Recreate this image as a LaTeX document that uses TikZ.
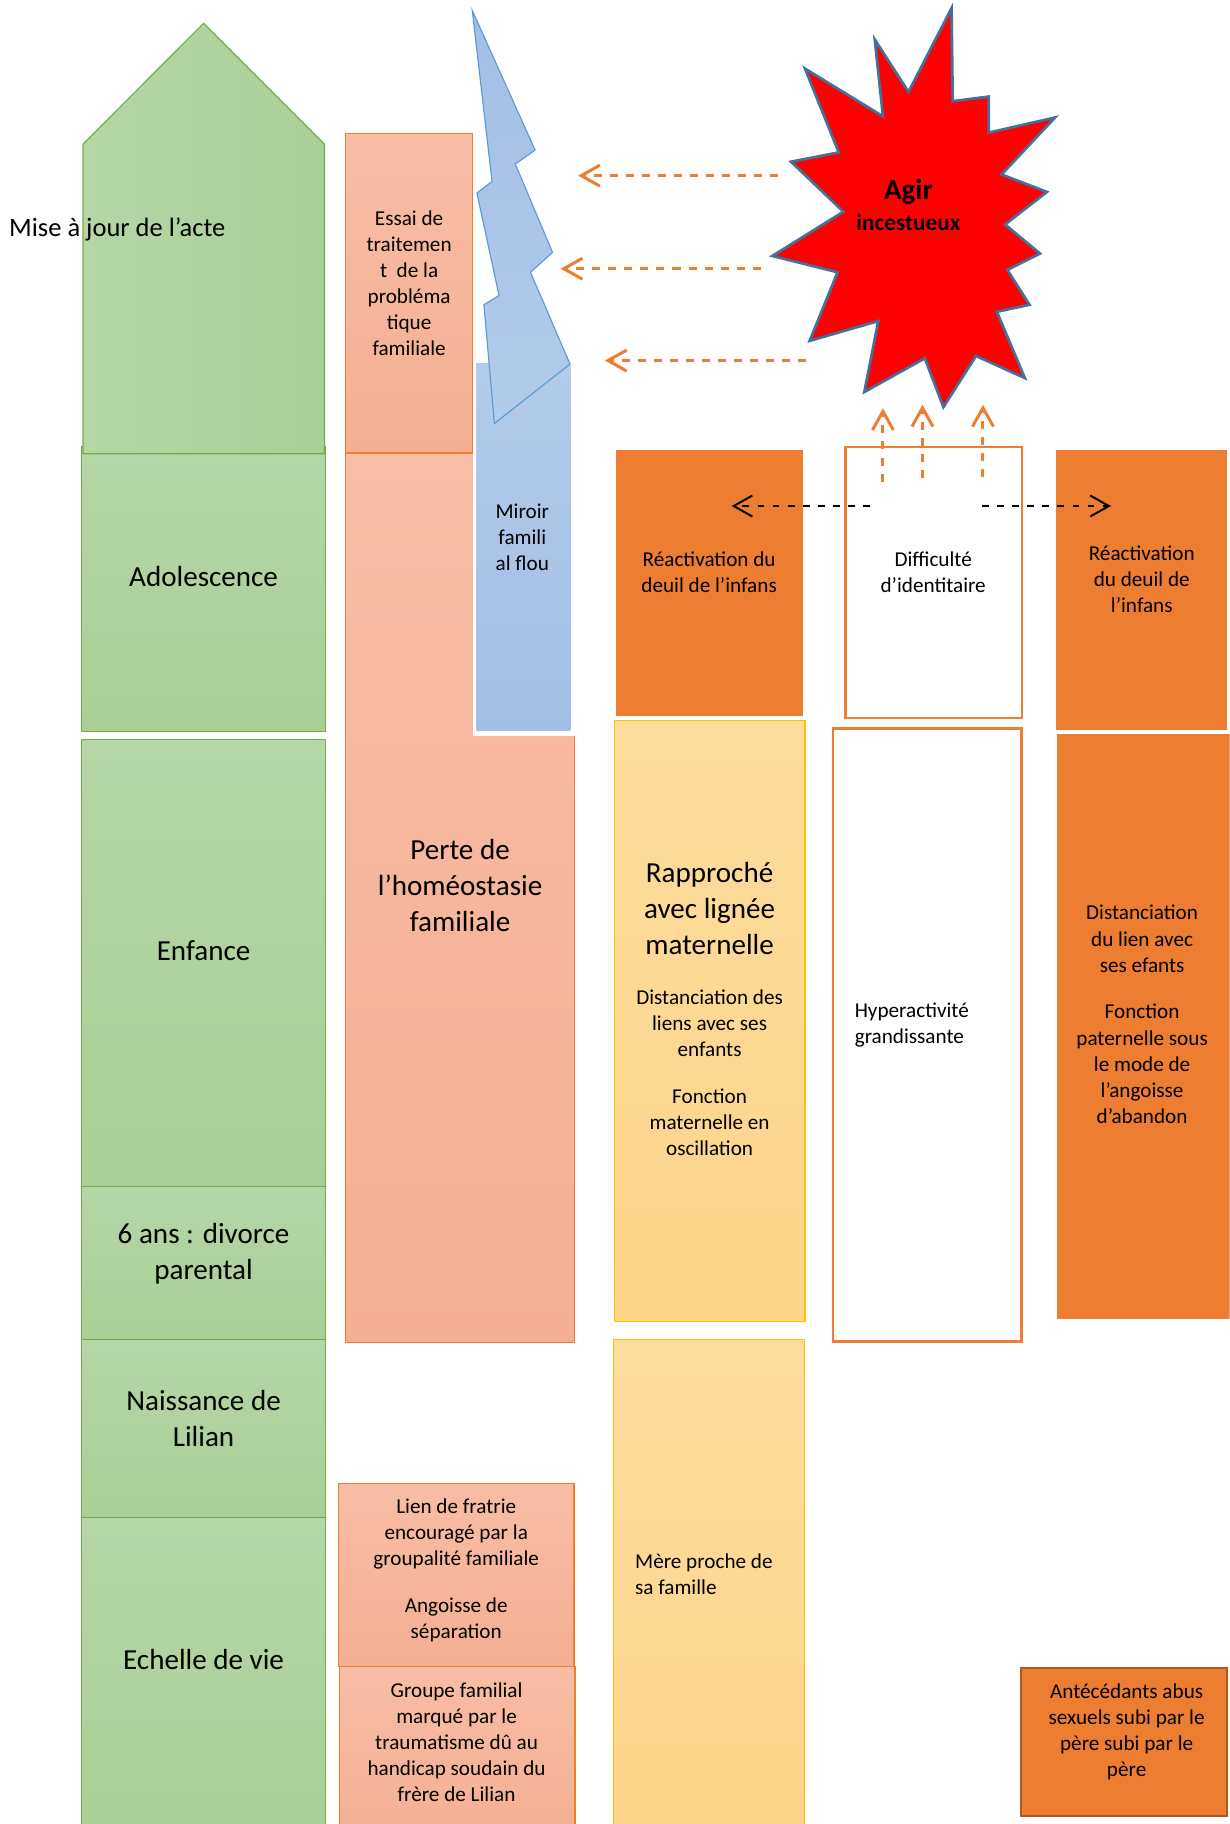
\documentclass[tikz,border=0pt]{standalone}
\usepackage{fontspec}
\setmainfont{Carlito}
\usetikzlibrary{fit,arrows.meta}
\definecolor{orgC}{HTML}{ED7D31}
\definecolor{grnB}{HTML}{70AD47}
\definecolor{grnT}{HTML}{B5D6A6}
\definecolor{grnD}{HTML}{A9CF96}
\definecolor{salT}{HTML}{F8BDA5}
\definecolor{salD}{HTML}{F4AF92}
\definecolor{yelT}{HTML}{FEDC9D}
\definecolor{yelD}{HTML}{FDD58B}
\definecolor{yelB}{HTML}{FFC000}
\definecolor{bluT}{HTML}{B3CBEA}
\definecolor{bluD}{HTML}{A2BFE6}
\definecolor{bluB}{HTML}{5B9BD5}
\definecolor{starB}{HTML}{41719C}
\definecolor{antB}{HTML}{AE5A21}
\newcommand\txtS{\fontsize{9.1}{11.2}\selectfont}
\newcommand\txtM{\fontsize{12.5}{15.4}\selectfont}
\newcommand\txtL{\fontsize{11.4}{14}\selectfont}
\begin{document}
\begin{tikzpicture}[x=0.5pt,y=-0.5pt,
  greenbox/.style={draw=grnB, line width=0.5pt, top color=grnT, bottom color=grnD, inner sep=0pt},
  salbox/.style={draw=orgC, line width=0.6pt, top color=salT, bottom color=salD, inner sep=0pt},
  yelbox/.style={draw=yelB, line width=0.5pt, top color=yelT, bottom color=yelD, inner sep=0pt},
  orgbox/.style={fill=orgC, inner sep=0pt},
  wbox/.style={draw=orgC, line width=1.1pt, fill=white, inner sep=0pt},
  blurect/.style={top color=bluT, bottom color=bluD, inner sep=0pt},
  bolt/.style={draw=bluB, line width=0.5pt, top color=bluD, bottom color=bluT},
  starsty/.style={draw=starB, line width=1.15pt, fill=red, line join=miter},
  tS/.style={font=\txtS, align=center, inner sep=0pt},
  tSL/.style={font=\txtS, align=left, inner sep=0pt, anchor=west},
  tM/.style={font=\txtM, align=center, inner sep=0pt},
  oarr/.style={draw=orgC, line width=1.3pt, dash pattern=on 3.45pt off 3.45pt, -{Straight Barb[length=8pt,width=9pt]}},
  barr/.style={draw=black, line width=0.85pt, dash pattern=on 2.9pt off 3.6pt, -{Straight Barb[length=8pt,width=9pt]}}
]
\useasboundingbox (0,0) rectangle (1057,1568);
\clip (0,0) rectangle (1057,1568);

% ---------- green column ----------
\node[greenbox, fit={(70,384) (279.5,629)}] (ado) {};
\draw[grnB, line width=0.5pt, left color=grnT, right color=grnD]
  (71.4,390) -- (71.4,124) -- (175,20) -- (279,124) -- (279,390) -- cycle;
\node[greenbox, fit={(70,636) (279.5,1020)}] (enf) {};
\node[greenbox, fit={(70,1020) (279.5,1151.5)}] (div) {};
\node[greenbox, fit={(70,1151.5) (279.5,1304.5)}] (nai) {};
\node[greenbox, fit={(70,1304.5) (279.5,1580)}] (ech) {};

% ---------- salmon column ----------
\node[salbox, fit={(297,389) (494,1154)}] (perte) {};
\fill[white] (406.8,309) rectangle (496,632.5);
\node[blurect, fit={(409.4,312.5) (490.3,628)}] (miroir) {};
\node[salbox, fit={(297,114.7) (406.4,389.3)}] (essai) {};
\draw[bolt] (406,9) -- (460,129) -- (443,141) -- (475,217) -- (456,234) -- (490,313)
  -- (425,364) -- (416,262) -- (429,254) -- (410,166) -- (423,156) -- cycle;
\node[salbox, fit={(291,1275.2) (493.4,1432.6)}] (lien) {};
\node[salbox, fit={(292,1432.6) (494.4,1580)}] (groupe) {};

% ---------- yellow / orange / white columns ----------
\node[orgbox, fit={(529.6,386.5) (690,615.2)}] (reac1) {};
\node[yelbox, fit={(528,619.2) (692,1135.8)}] (rapp) {};
\node[yelbox, fit={(527.6,1151.6) (691.4,1580)}] (mere) {};
\node[wbox, fit={(726.8,384.2) (878.6,617.2)}] (diff) {};
\node[wbox, fit={(716,626.3) (878.3,1153)}] (hyper) {};
\node[orgbox, fit={(907.6,386.5) (1055,627.9)}] (reac2) {};
\node[orgbox, fit={(908.7,631.3) (1057,1134.1)}] (dist) {};
\node[orgbox, draw=antB, line width=0.9pt, fit={(878,1433.5) (1055,1561)}] (ant) {};

% ---------- star ----------
\draw[starsty] (818,7) -- (819,87) -- (850,83) -- (850,114) -- (907,101) -- (861,150)
  -- (900,165) -- (864,193) -- (894,218) -- (866,232) -- (885,262) -- (857,268)
  -- (881,325) -- (839,306) -- (811,350) -- (795,308) -- (743,337) -- (755,276)
  -- (696,293) -- (720,234) -- (664,220) -- (725,182) -- (680,139) -- (721,131)
  -- (692,59) -- (759,100) -- (752,34) -- (781,79) -- cycle;
\node[font=\fontsize{12.5}{15}\selectfont\bfseries, inner sep=0pt, anchor=base] (agir) at (781,171.4) {Agir};
\node[font=\fontsize{10}{12}\selectfont\bfseries, inner sep=0pt, anchor=base] (inces) at (781,197.8) {incestueux};

% ---------- texts ----------
\node[font=\txtL, inner sep=0pt, anchor=base west] (mise) at (7.5,203.6) {Mise à jour de l’acte};
\node[tM] (tado) at (175,495.5) {Adolescence};
\node[tM] (tenf) at (175,817.5) {Enfance};
\node[tM] (tdiv) at (175,1077.5) {6 ans : divorce\\parental};
\node[tM] (tnai) at (175,1219.5) {Naissance de\\Lilian};
\node[tM] (tech) at (175,1427) {Echelle de vie};

\node[tS] (tessai) at (351.7,243.7) {Essai de\\traitemen\\t~~de la\\probléma\\tique\\familiale};
\node[tS] (tmir) at (449,461.9) {Miroir\\famili\\al flou};
\node[tM] (tperte) at (395.5,761) {Perte de\\l’homéostasie\\familiale};
\node[tS] (tlien1) at (392.2,1318.5) {Lien de fratrie\\encouragé par la\\groupalité familiale};
\node[tS] (tlien2) at (392.2,1392.4) {Angoisse de\\séparation};
\node[tS] (tgroupe) at (392.5,1497.4) {Groupe familial\\marqué par le\\traumatisme dû au\\handicap soudain du\\frère de Lilian};

\node[tS] (treac1) at (609.6,492) {Réactivation du\\deuil de l’infans};
\node[tS] (tdiff) at (802.2,492) {Difficulté\\d’identitaire};
\node[tS] (treac2) at (981.5,497.8) {Réactivation\\du deuil de\\l’infans};

\node[tM] (trapp) at (610,781) {Rapproché\\avec lignée\\maternelle};
\node[tS] (trapp2) at (610,879.5) {Distanciation des\\liens avec ses\\enfants};
\node[tS] (trapp3) at (610,964.4) {Fonction\\maternelle en\\oscillation};
\node[tSL] (thyper) at (734.4,881.5) {Hyperactivité\\grandissante};
\node[tS] (tdist1) at (981.8,807) {Distanciation\\du lien avec\\ses efants};
\node[tS] (tdist2) at (981.8,914.5) {Fonction\\paternelle sous\\le mode de\\l’angoisse\\d’abandon};
\node[tSL] (tmere) at (545.6,1353) {Mère proche de\\sa famille};
\node[tS] (tant) at (968.5,1488.7) {Antécédants abus\\sexuels subi par le\\père subi par le\\père};

% ---------- arrows ----------
\coordinate (a1s) at (669,151);  \coordinate (a1e) at (497,151);
\coordinate (a2s) at (654,231);  \coordinate (a2e) at (482,231);
\coordinate (a3s) at (693,310);  \coordinate (a3e) at (520,310);
\draw[oarr] (a1s) -- (a1e);
\draw[oarr] (a2s) -- (a2e);
\draw[oarr] (a3s) -- (a3e);
\coordinate (u1s) at (759,414);  \coordinate (u1e) at (759,351);
\coordinate (u2s) at (793,411);  \coordinate (u2e) at (793,348);
\coordinate (u3s) at (845,410);  \coordinate (u3e) at (845,348);
\draw[oarr] (u1s) -- (u1e);
\draw[oarr] (u2s) -- (u2e);
\draw[oarr] (u3s) -- (u3e);
\coordinate (b1s) at (748,435);  \coordinate (b1e) at (629,435);
\coordinate (b2s) at (844,435);  \coordinate (b2e) at (955,435);
\draw[barr] (b1s) -- (b1e);
\draw[barr] (b2s) -- (b2e);
\end{tikzpicture}
\end{document}
